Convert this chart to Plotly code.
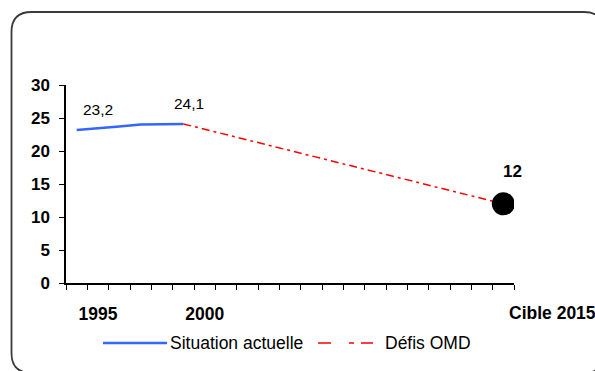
import plotly.graph_objects as go

# Category axis: one slot per year, the last slot is the 2015 target
categories = ["1994", "1995", "1996", "1997", "1998", "1999", "2000", "2001",
              "2002", "2003", "2004", "2005", "2006", "2007", "2008", "2009",
              "2010", "2011", "2012", "2013", "Cible 2015"]
labelled_ticks = ["1995", "2000"]

# Observed trend
situation_years = ["1994", "1995", "1996", "1997", "1998", "1999"]
situation_values = [23.2, 23.4, 23.7, 24.0, 24.1, 24.1]

# Path required to reach the MDG target
omd_years = ["1999", "Cible 2015"]
omd_values = [24.1, 12.0]

target_year = "Cible 2015"
target_value = 12.0

W, H = 595, 371
ML, MR, MT, MB = 66, 81, 85, 88
PW, PH = W - ML - MR, H - MT - MB

FONT = "Liberation Sans, Arial, sans-serif"


def idx(cat):
    return categories.index(cat)


def px(x):
    return (x - ML) / PW


def py(y):
    return (H - MB - y) / PH


def fmt(v):
    return f"{v:.1f}".replace(".", ",")


fig = go.Figure()

fig.add_trace(go.Scatter(
    x=[idx(c) for c in situation_years], y=situation_values,
    mode="lines", name="Situation actuelle",
    line=dict(color="#3366ff", width=2.5),
))
fig.add_trace(go.Scatter(
    x=[idx(c) for c in omd_years], y=omd_values,
    mode="lines", name="Défis OMD",
    line=dict(color="#ff0000", width=1.5, dash="8px,4px,3px,4px"),
))
fig.add_trace(go.Scatter(
    x=[idx(target_year)], y=[target_value],
    mode="markers", name="Cible",
    marker=dict(color="black", size=23, line=dict(width=0)),
))

# Value labels
fig.add_annotation(x=idx(situation_years[0]), y=situation_values[0],
                   text=fmt(situation_values[0]), showarrow=False,
                   xshift=21, yshift=20, font=dict(family=FONT, size=15.5, color="black"))
fig.add_annotation(x=idx(situation_years[-1]), y=situation_values[-1],
                   text=fmt(situation_values[-1]), showarrow=False,
                   xshift=6, yshift=20, font=dict(family=FONT, size=15.5, color="black"))
fig.add_annotation(x=idx(target_year), y=target_value,
                   text=f"{target_value:.0f}", showarrow=False,
                   xshift=9, yshift=32,
                   font=dict(family=FONT, size=17, color="black", weight="bold"))

# Target category label, set to the right of its slot
fig.add_annotation(x=idx(target_year), xref="x", y=0, yref="paper",
                   text=target_year, showarrow=False, xanchor="left", yanchor="middle",
                   xshift=4, yshift=-30,
                   font=dict(family=FONT, size=17.5, color="black", weight="bold"))

# Legend drawn as line samples with text
legend_y = py(343)
fig.add_shape(type="line", xref="paper", yref="paper",
              x0=px(103), x1=px(167), y0=legend_y, y1=legend_y,
              line=dict(color="#3366ff", width=2.5))
fig.add_annotation(xref="paper", yref="paper", x=px(168), y=legend_y,
                   text=fig.data[0].name, showarrow=False, xanchor="left", yanchor="middle",
                   font=dict(family=FONT, size=17.5, color="black"))
fig.add_shape(type="line", xref="paper", yref="paper",
              x0=px(318), x1=px(373), y0=legend_y, y1=legend_y,
              line=dict(color="#ff0000", width=1.5, dash="13px,18px,5px,7px"))
fig.add_annotation(xref="paper", yref="paper", x=px(383), y=legend_y,
                   text=fig.data[1].name, showarrow=False, xanchor="left", yanchor="middle",
                   font=dict(family=FONT, size=17.5, color="black"))

# Rounded chart frame
x0, y0, x1, y1, r = 11.5, 12.0, 604.0, 373.0, 20.0
path = (
    f"M {px(x0 + r)},{py(y0)} L {px(x1 - r)},{py(y0)} "
    f"Q {px(x1)},{py(y0)} {px(x1)},{py(y0 + r)} "
    f"L {px(x1)},{py(y1 - r)} Q {px(x1)},{py(y1)} {px(x1 - r)},{py(y1)} "
    f"L {px(x0 + r)},{py(y1)} Q {px(x0)},{py(y1)} {px(x0)},{py(y1 - r)} "
    f"L {px(x0)},{py(y0 + r)} Q {px(x0)},{py(y0)} {px(x0 + r)},{py(y0)} Z"
)
fig.add_shape(type="path", xref="paper", yref="paper", path=path,
              line=dict(color="#3a3a3a", width=1.8), layer="below")

fig.update_layout(
    width=W, height=H,
    margin=dict(l=ML, r=MR, t=MT, b=MB),
    paper_bgcolor="white", plot_bgcolor="white",
    showlegend=False,
    font=dict(family=FONT, color="black"),
)
fig.update_xaxes(
    range=[-0.5, len(categories) - 0.5],
    tickmode="array",
    tickvals=[idx(c) for c in labelled_ticks],
    ticktext=labelled_ticks,
    ticks="", ticklabelstandoff=14,
    tickfont=dict(family=FONT, size=17.5, color="black", weight="bold"),
    showline=True, linecolor="black", linewidth=1.5,
    showgrid=False, zeroline=False,
    minor=dict(ticks="outside", tick0=-0.5, dtick=1, ticklen=5,
               tickwidth=1.2, tickcolor="black", showgrid=False),
)
fig.update_yaxes(
    range=[0, 30], dtick=5,
    ticks="outside", ticklen=5, tickwidth=1.2, tickcolor="black",
    ticklabelstandoff=6,
    tickfont=dict(family=FONT, size=17, color="black", weight="bold"),
    showline=True, linecolor="black", linewidth=1.5,
    showgrid=False, zeroline=False,
)

fig.write_html("out.html")
